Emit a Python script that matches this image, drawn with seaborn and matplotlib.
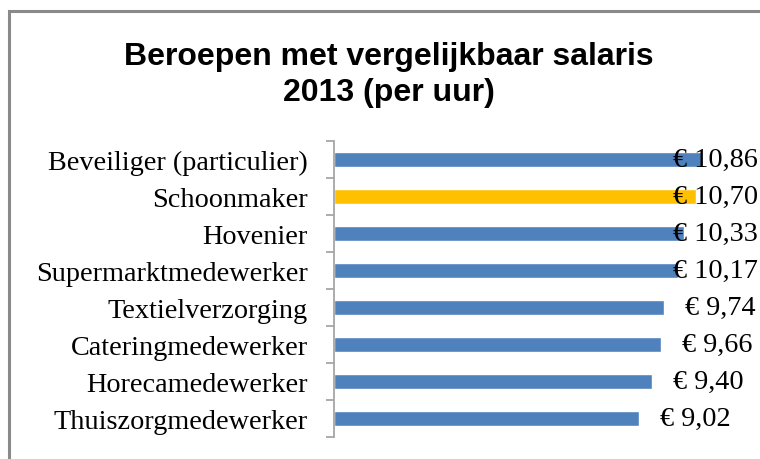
import matplotlib
matplotlib.use('Agg')
import matplotlib.pyplot as plt
import seaborn as sns
from matplotlib.patches import Rectangle

beroepen = ['Beveiliger (particulier)', 'Schoonmaker', 'Hovenier', 'Supermarktmedewerker',
            'Textielverzorging', 'Cateringmedewerker', 'Horecamedewerker', 'Thuiszorgmedewerker']
salaris = [10.86, 10.70, 10.33, 10.17, 9.74, 9.66, 9.40, 9.02]
kleuren = ['#4F81BD', '#FFC000', '#4F81BD', '#4F81BD', '#4F81BD', '#4F81BD', '#4F81BD', '#4F81BD']
titel = 'Beroepen met vergelijkbaar salaris\n2013 (per uur)'

sns.set_style('white')
plt.rcParams['font.family'] = ['Liberation Serif', 'DejaVu Serif']
plt.rcParams['text.color'] = 'black'
plt.rcParams['ytick.labelcolor'] = 'black'

W, H = 760, 460
fig = plt.figure(figsize=(W / 100, H / 100), dpi=100)
ax = fig.add_axes([334 / W, 1 - 438 / H, (758 - 334) / W, (438 - 142) / H])

sns.barplot(x=salaris, y=beroepen, hue=beroepen, palette=kleuren, legend=False,
            orient='h', width=0.42, saturation=1, ax=ax)

ax.set_xlim(0, (758 - 334) / 33.86)
ax.set_ylim(len(beroepen) - 0.5, -0.5)
ax.set_xlabel('')
ax.set_ylabel('')
ax.set_xticks([])
for s in ['top', 'right', 'bottom']:
    ax.spines[s].set_visible(False)
ax.spines['left'].set_color('#a6a6a6')
ax.spines['left'].set_linewidth(1.3)

# ticks between categories
ax.set_yticks([i + 0.5 for i in range(-1, len(beroepen))], minor=True)
ax.tick_params(axis='y', which='minor', length=6, width=1.3, color='#a6a6a6', direction='out', left=True)
ax.tick_params(axis='y', which='major', length=0, pad=19, labelsize=20.3, labelcolor='black')

fig.canvas.draw()
ax_right = ax.get_window_extent().x1
for i, v in enumerate(salaris):
    lab = '€ ' + f'{v:.2f}'.replace('.', ',')
    t = ax.annotate(lab, xy=(v, i), xytext=(15, 0), textcoords='offset points',
                    ha='left', va='center', fontsize=20.3, color='black')
    fig.canvas.draw()
    if t.get_window_extent().x1 > ax_right:
        t.remove()
        ax.text(1.0, i, lab, transform=ax.get_yaxis_transform(), ha='right', va='center',
                fontsize=20.3, color='black')

fig.text(389 / W, 1 - 75 / H, titel, ha='center', va='center', fontsize=23,
         fontweight='bold', family=['Liberation Sans', 'DejaVu Sans'], linespacing=1.28,
         color='black')

fig.patches.append(Rectangle((9 / W, -0.2), 1.2, 1 - 12 / H + 0.2, transform=fig.transFigure,
                             fill=False, edgecolor='#8a8a8a', linewidth=2.2))

fig.savefig('out.png', dpi=100)
